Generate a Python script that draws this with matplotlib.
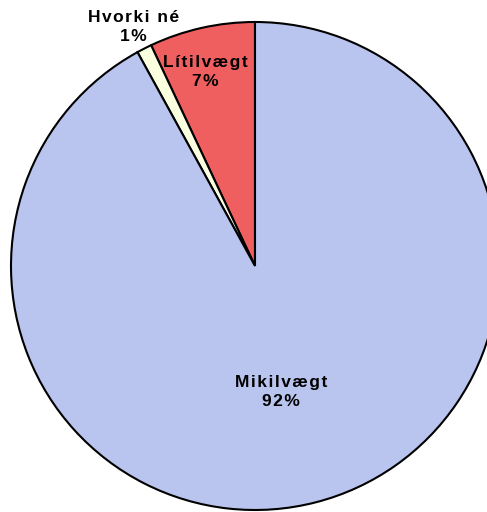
import numpy as np
import matplotlib
matplotlib.use("Agg")
from matplotlib import pyplot as plt

# slices, counter-clockwise from 12 o'clock
labels = ["Lítilvægt", "Hvorki né", "Mikilvægt"]
values = [7, 1, 92]
colors = ["#EF5F5F", "#FAFFE0", "#B9C5EE"]

# label placement: radius (pie radii) and angle nudge (deg) from wedge middle
label_r = [0.82, 1.10, 0.527]
label_da = [1.9, 0.0, -2.7]

W, H = 487, 512
fig = plt.figure(figsize=(W / 100, H / 100), dpi=100)
ax = fig.add_axes([0, 0, 1, 1])

R = 244.0
cx, cy = 255.0, 266.0

wedges, _ = ax.pie(values, colors=colors, startangle=90, counterclock=True,
                   radius=1.0, center=(0, 0), frame=True,
                   wedgeprops=dict(edgecolor="black", linewidth=1.5))
ax.set_xlim(-cx / R, (W - cx) / R)
ax.set_ylim((cy - H) / R, cy / R)
ax.set_aspect("auto")
ax.axis("off")


def spaced(s):
    # wide letter spacing like the original
    return "\u200a".join(s)


total = sum(values)
for w, lab, v, r, da in zip(wedges, labels, values, label_r, label_da):
    mid = np.deg2rad((w.theta1 + w.theta2) / 2 + da)
    x, y = r * np.cos(mid), r * np.sin(mid)
    txt = spaced(lab) + "\n" + spaced(f"{round(100 * v / total)}%")
    ax.text(x, y, txt, ha="center", va="center", multialignment="center",
            fontsize=12.5, fontweight="bold",
            family=["Liberation Sans", "DejaVu Sans"],
            linespacing=1.3, color="black")

fig.savefig("out.png", dpi=100)
